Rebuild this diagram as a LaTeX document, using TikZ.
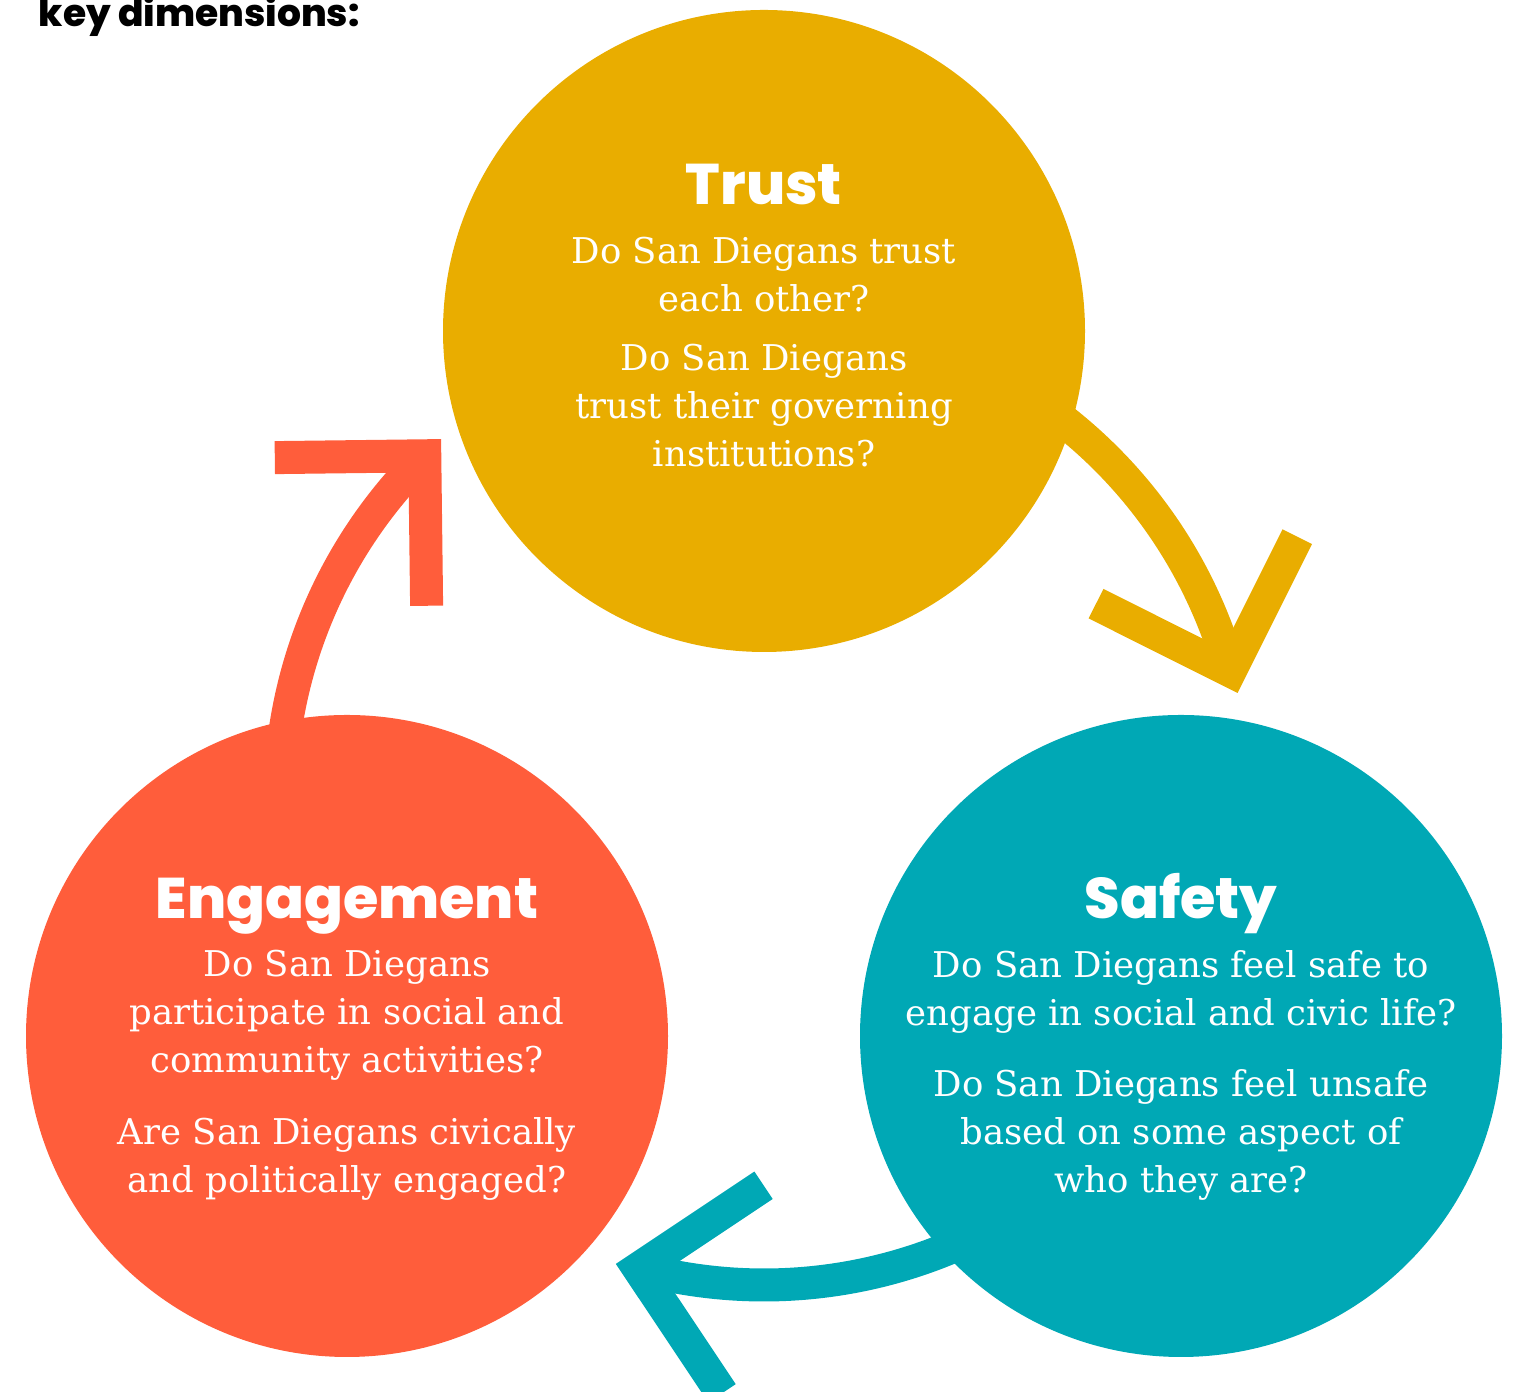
\documentclass[tikz,border=0pt]{standalone}
\usepackage{fontspec}
\setmainfont{DejaVu Serif}
\newfontfamily\headfont{Poppins ExtraBold}
\usetikzlibrary{calc}

\definecolor{trustgold}{RGB}{233,173,0}
\definecolor{safetyteal}{RGB}{0,168,181}
\definecolor{engagecoral}{RGB}{255,93,59}

\tikzset{
    dimcircle/.style={circle, minimum size=6.42cm, inner sep=0pt},
    dimtitle/.style={text=white, anchor=base,
        font=\headfont\fontsize{16.3}{18}\selectfont},
    dimtext/.style={text=white, anchor=base, align=center,
        font=\fontsize{10.1}{13.66}\selectfont},
    cyclearrow/.style={line width=0.33cm},
    chevron/.pic={
        \draw[line width=0.33cm, line join=miter]
            (135:1.5) -- (0,0) -- (-135:1.5);
    }
}

\begin{document}
\begin{tikzpicture}
                \useasboundingbox (0,0) rectangle (15.18,13.92);
                \node[anchor=base west, inner sep=0pt,
                    font=\headfont\fontsize{10.7}{12}\selectfont]
                    (heading) at (0.38,13.65) {key dimensions:};

                % arrows go under the circles
                \coordinate (hub) at (7.64,5.91);
                \coordinate (ts-from) at ($(hub)+(55:4.84)$);
                \coordinate (ts-to) at ($(hub)+(15.6:4.84)$);
                \coordinate (se-from) at ($(hub)+(-65:4.84)$);
                \coordinate (se-to) at ($(hub)+(-105:4.84)$);
                \coordinate (et-from) at ($(hub)+(175:4.84)$);
                \coordinate (et-to) at ($(hub)+(134.5:4.84)$);
                \draw[cyclearrow, trustgold] 
                    (ts-from) arc[start angle=55, end angle=15.6, radius=4.84];
                \pic[rotate=-71.6, trustgold] at (ts-to) {chevron};
                \draw[cyclearrow, safetyteal] 
                    (se-from) arc[start angle=-65, end angle=-105, radius=4.84];
                \pic[rotate=168.7, safetyteal] at (se-to) {chevron};
                \draw[cyclearrow, engagecoral] 
                    (et-from) arc[start angle=175, end angle=134.5, radius=4.84];
                \pic[rotate=45.7, engagecoral] at (et-to) {chevron};

                \node[dimcircle, fill=trustgold] 
                    (trust) at (7.64,10.61) {};
                \node[dimcircle, fill=safetyteal] 
                    (safety) at (11.81,3.56) {};
                \node[dimcircle, fill=engagecoral] 
                    (engagement) at (3.47,3.56) {};

                \node[dimtitle] (trust-title) at (7.64,11.87) {Trust};
                \node[dimtext] (trust-q1) at (7.64,10.80) 
                    {Do San Diegans trust\\each other?};
                \node[dimtext] (trust-q2) at (7.64,9.25) 
                    {Do San Diegans\\trust their governing\\institutions?};

                \node[dimtitle] (safety-title) at (11.81,4.73) {Safety};
                \node[dimtext] (safety-q1) at (11.81,3.66) 
                    {Do San Diegans feel safe to\\engage in social and civic life?};
                \node[dimtext] (safety-q2) at (11.81,1.99) 
                    {Do San Diegans feel unsafe\\based on some aspect of\\who they are?};

                \node[dimtitle] (engagement-title) at (3.47,4.73) {Engagement};
                \node[dimtext] (engagement-q1) at (3.47,3.19) 
                    {Do San Diegans\\participate in social and\\community activities?};
                \node[dimtext] (engagement-q2) at (3.47,1.99) 
                    {Are San Diegans civically\\and politically engaged?};
\end{tikzpicture}
\end{document}
